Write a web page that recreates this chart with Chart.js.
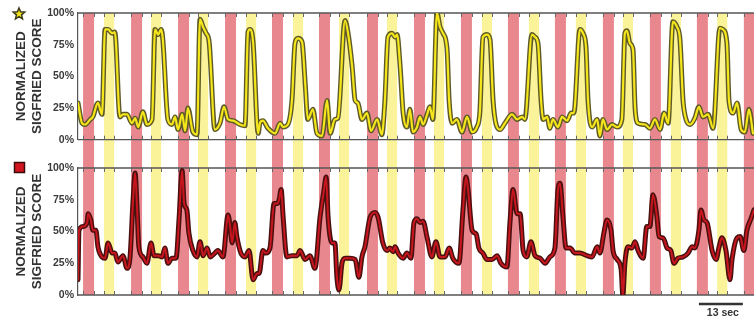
<!DOCTYPE html>
<html>
<head>
<meta charset="utf-8">
<script src="https://cdn.jsdelivr.net/npm/chart.js@4/dist/chart.umd.min.js"></script>
<style>
  html, body { margin: 0; padding: 0; background: #fff; }
  #wrap { position: relative; width: 754px; height: 322px; }
  #top { position: absolute; left: 0; top: 0; }
  #bottom { position: absolute; left: 0; top: 150px; }
</style>
</head>
<body>
<div id="wrap">
  <canvas id="top" width="754" height="150"></canvas>
  <canvas id="bottom" width="754" height="172"></canvas>
</div>
<script>
// temps en secondes
const topTimes = [
  0, 1.2, 2.1, 3.6, 4.4, 5.9, 7.1, 8.0, 8.9, 10.1,
  10.9, 12.4, 13.3, 14.5, 16.0, 16.9, 17.8, 19.2, 20.4, 21.9,
  22.8, 23.7, 24.6, 25.1, 26.6, 27.8, 28.7, 29.6, 30.8, 31.7,
  32.5, 34.0, 35.2, 36.1, 37.0, 37.9, 38.8, 40.5, 42.0, 43.2,
  44.4, 45.9, 47.9, 49.4, 50.3, 50.9, 51.8, 53.3, 53.8, 54.7,
  56.2, 58.3, 59.8, 60.7, 62.1, 63.3, 64.2, 65.1, 66.3, 67.2,
  68.0, 69.5, 70.7, 72.2, 73.7, 74.6, 76.0, 76.9, 79.0, 79.9,
  81.1, 82.0, 82.8, 84.0, 85.5, 86.7, 88.5, 89.9, 90.8, 91.7,
  92.9, 93.8, 94.4, 95.3, 96.2, 97.3, 98.2, 99.1, 100.3, 101.2,
  102.1, 103.3, 104.1, 105.0, 106.2, 107.1, 108.0, 109.2, 109.8, 110.7,
  112.1, 113.6, 115.1, 116.6, 118.0, 118.9, 119.8, 121.0, 121.9, 122.8,
  123.7, 124.9, 126.3, 128.4, 129.9, 131.4, 132.2, 134.3, 135.2, 136.1,
  137.0, 137.6, 138.8, 139.6, 140.5, 142.0, 143.2, 144.7, 145.9, 146.7,
  148.5, 149.4, 150.3, 150.9, 152.1, 153.6, 154.4, 155.3, 156.5, 158.0,
  159.5, 160.9, 161.8, 162.4, 163.3, 164.2, 164.8, 165.7, 167.8, 169.2,
  170.7, 172.2, 173.4, 174.6, 176.0, 177.2, 178.1, 179.0, 179.9, 181.1,
  182.5, 183.7, 184.9, 186.4, 187.9, 189.9, 190.8, 192.0, 192.6, 193.8,
  195.0, 196.2, 197.3, 198.5, 199.7
];
const topScores = [
  29, 13, 12, 16, 18, 29, 20, 87, 87, 84,
  85, 18, 20, 20, 13, 17, 10, 22, 12, 16,
  87, 83, 87, 79, 16, 12, 18, 8, 20, 7,
  25, 6, 4, 95, 89, 84, 77, 8, 13, 26,
  16, 15, 12, 11, 85, 87, 77, 5, 13, 15,
  9, 5, 13, 10, 12, 31, 76, 80, 77, 45,
  16, 24, 5, 3, 31, 5, 16, 17, 94, 84,
  58, 31, 29, 16, 21, 7, 16, 4, 31, 81,
  84, 81, 83, 58, 21, 10, 24, 6, 10, 18,
  12, 20, 26, 16, 100, 89, 84, 71, 31, 13,
  16, 6, 18, 6, 10, 22, 81, 83, 79, 31,
  12, 8, 13, 20, 16, 18, 16, 83, 81, 76,
  31, 16, 18, 9, 16, 10, 18, 15, 21, 21,
  87, 84, 73, 31, 10, 16, 3, 16, 8, 12,
  10, 16, 84, 86, 76, 71, 26, 13, 12, 9,
  16, 8, 21, 13, 93, 89, 79, 31, 16, 12,
  17, 26, 18, 20, 9, 88, 87, 76, 31, 21,
  29, 8, 6, 24, 5
];

const bottomTimes = [
  0.0, 0.3, 1.5, 2.7, 3.0, 3.8, 4.4, 5.3, 5.9, 7.1,
  8.0, 8.9, 10.1, 10.9, 11.8, 13.3, 14.5, 15.4, 16.3, 16.9,
  17.5, 18.0, 19.2, 20.4, 21.6, 22.5, 23.7, 24.9, 25.7, 26.6,
  27.8, 29.0, 29.9, 30.8, 31.4, 32.2, 32.8, 34.0, 35.2, 36.1,
  37.0, 38.2, 39.1, 40.5, 41.4, 42.9, 44.4, 45.0, 45.6, 46.4,
  47.0, 48.2, 49.4, 50.6, 51.8, 53.0, 53.6, 54.7, 55.6, 56.8,
  58.0, 58.9, 59.5, 60.1, 60.7, 61.8, 63.3, 64.8, 65.7, 67.2,
  68.6, 70.1, 71.6, 72.8, 73.4, 74.0, 75.1, 76.0, 76.6, 77.2,
  78.1, 79.0, 80.5, 82.0, 83.1, 84.0, 84.9, 86.4, 87.9, 88.8,
  90.2, 91.4, 92.3, 93.2, 93.8, 94.7, 96.2, 97.3, 98.5, 99.4,
  100.3, 101.2, 102.1, 103.3, 104.7, 105.9, 107.1, 108.6, 109.8, 110.9,
  112.7, 113.9, 114.8, 115.4, 116.6, 117.8, 118.6, 119.8, 121.0, 122.5,
  124.0, 125.1, 126.9, 127.8, 128.7, 129.9, 130.8, 131.7, 132.8, 134.0,
  135.2, 136.7, 138.2, 139.6, 141.1, 142.0, 142.6, 143.5, 144.4, 145.6,
  147.0, 148.5, 150.6, 152.1, 153.6, 154.4, 155.6, 156.5, 157.7, 158.3,
  159.5, 160.7, 161.2, 161.8, 162.7, 163.9, 164.8, 165.7, 167.2, 168.3,
  169.2, 170.1, 171.3, 171.9, 173.1, 174.3, 175.4, 176.3, 177.5, 179.0,
  180.5, 181.7, 182.5, 183.7, 184.3, 185.2, 186.1, 187.6, 188.8, 189.6,
  190.5, 191.7, 192.9, 193.5, 195.0, 195.9, 197.0, 197.9, 199.1, 200.0
];
const bottomScores = [
  12, 51, 54, 57, 64, 59, 51, 51, 38, 30,
  29, 41, 33, 33, 26, 31, 21, 30, 75, 96,
  67, 38, 30, 25, 41, 31, 31, 30, 37, 25,
  29, 29, 60, 98, 72, 67, 49, 35, 30, 42,
  31, 37, 30, 33, 35, 30, 63, 54, 41, 57,
  46, 33, 30, 35, 12, 17, 17, 35, 33, 37,
  72, 72, 75, 83, 61, 30, 31, 31, 35, 28,
  31, 21, 61, 83, 93, 61, 41, 41, 14, 4,
  25, 29, 29, 28, 14, 30, 38, 61, 65, 61,
  41, 35, 37, 34, 38, 33, 29, 33, 29, 57,
  60, 57, 58, 45, 30, 42, 30, 30, 37, 29,
  25, 67, 93, 83, 51, 48, 37, 33, 28, 28,
  31, 25, 22, 57, 83, 64, 64, 35, 30, 42,
  31, 29, 25, 30, 37, 83, 88, 61, 37, 37,
  33, 33, 31, 30, 38, 33, 49, 59, 51, 35,
  28, 20, 0, 25, 38, 37, 42, 35, 29, 54,
  54, 79, 61, 46, 45, 37, 35, 25, 29, 30,
  33, 38, 37, 51, 67, 59, 57, 35, 28, 37,
  45, 35, 12, 28, 45, 46, 35, 51, 60, 67
];

// périodes de stimulation (début, en secondes)
const redStarts = [1.5, 15.7, 29.6, 43.5, 57.4, 71.3, 85.5, 99.4, 113.3, 127.2, 141.1, 155.3, 169.2, 183.1, 197.0];
const redDuration = 3.25;
const yellowStarts = [7.7, 21.6, 35.5, 49.7, 63.6, 77.2, 91.4, 105.3, 119.5, 133.4, 147.3, 161.2, 175.4, 189.1];
const yellowDuration = 3.0;

const yTicks = [0, 25, 50, 75, 100];
const axisTitle = ['NORMALIZED', 'SIGFRIED SCORE'];
const scaleBarSeconds = 13;
const scaleBarEnd = 196.7;
const timeMax = 200;

const FONT = "'Liberation Sans', Arial, sans-serif";

// bandes + cadre
function bandesPlugin(bandTop, bandBottom) {
  return {
    id: 'bandes',
    beforeDatasetsDraw(chart) {
      const { ctx, chartArea, scales } = chart;
      const x = scales.x;
      const y0 = bandTop(chart), y1 = bandBottom(chart);
      ctx.save();
      const dessiner = (starts, dur, couleur) => {
        ctx.fillStyle = couleur;
        starts.forEach(s => {
          const a = x.getPixelForValue(s), b = x.getPixelForValue(s + dur);
          ctx.fillRect(a, y0, b - a, y1 - y0);
        });
      };
      dessiner(redStarts, redDuration, '#e9878f');
      dessiner(yellowStarts, yellowDuration, '#faf399');

      // cadre haut et bas
      ctx.strokeStyle = '#555';
      ctx.lineWidth = 1.3;
      ctx.beginPath();
      ctx.moveTo(chartArea.left, chartArea.top);
      ctx.lineTo(chartArea.right, chartArea.top);
      ctx.moveTo(chartArea.left, chartArea.bottom);
      ctx.lineTo(chartArea.right, chartArea.bottom);
      ctx.stroke();

      // petites graduations aux bords des bandes
      ctx.lineWidth = 1;
      ctx.strokeStyle = '#666';
      ctx.beginPath();
      const bords = [];
      redStarts.forEach(s => bords.push(s, s + redDuration));
      yellowStarts.forEach(s => bords.push(s, s + yellowDuration));
      bords.forEach(t => {
        const px = Math.round(x.getPixelForValue(t)) + 0.5;
        if (px > chartArea.right) return;
        ctx.moveTo(px, chartArea.bottom);
        ctx.lineTo(px, chartArea.bottom - 4);
        ctx.moveTo(px, chartArea.top);
        ctx.lineTo(px, chartArea.top + 4);
      });
      ctx.stroke();
      ctx.restore();
    }
  };
}

function titrePlugin(icone) {
  return {
    id: 'titre',
    afterDraw(chart) {
      const { ctx, chartArea } = chart;
      const cy = (chartArea.top + chartArea.bottom) / 2;
      ctx.save();
      ctx.fillStyle = '#333';
      ctx.font = 'bold 13.5px ' + FONT;
      ctx.textAlign = 'center';
      ctx.textBaseline = 'middle';
      [21, 37].forEach((cx, i) => {
        ctx.save();
        ctx.translate(cx, cy);
        ctx.rotate(-Math.PI / 2);
        ctx.fillText(axisTitle[i], 0, 0);
        ctx.restore();
      });
      icone(ctx, chart);
      ctx.restore();
    }
  };
}

function etoile(ctx) {
  const cx = 19, cy = 14, r1 = 6, r2 = 2.7;
  ctx.beginPath();
  for (let i = 0; i < 10; i++) {
    const r = i % 2 === 0 ? r1 : r2;
    const ang = -Math.PI / 2 + i * Math.PI / 5;
    const px = cx + r * Math.cos(ang), py = cy + r * Math.sin(ang);
    if (i === 0) ctx.moveTo(px, py); else ctx.lineTo(px, py);
  }
  ctx.closePath();
  ctx.fillStyle = '#f2e51c';
  ctx.fill();
  ctx.lineWidth = 1.5;
  ctx.strokeStyle = '#3d3a1a';
  ctx.stroke();
}

function carre(ctx) {
  ctx.fillStyle = '#d2141e';
  ctx.fillRect(14.5, 12.5, 10, 10);
  ctx.lineWidth = 1.5;
  ctx.strokeStyle = '#3a0c0c';
  ctx.strokeRect(14.5, 12.5, 10, 10);
}

const echellePlugin = {
  id: 'echelle',
  afterDraw(chart) {
    const { ctx, scales } = chart;
    const x1 = scales.x.getPixelForValue(scaleBarEnd - scaleBarSeconds);
    const x2 = scales.x.getPixelForValue(scaleBarEnd);
    ctx.save();
    ctx.strokeStyle = '#333';
    ctx.lineWidth = 2.5;
    ctx.beginPath();
    ctx.moveTo(x1, 154);
    ctx.lineTo(x2, 154);
    ctx.stroke();
    ctx.fillStyle = '#333';
    ctx.font = 'bold 10.5px ' + FONT;
    ctx.textAlign = 'center';
    ctx.textBaseline = 'middle';
    ctx.fillText(scaleBarSeconds + ' sec', (x1 + x2) / 2 + 2, 163);
    ctx.restore();
  }
};

function options(padTop, padBottom) {
  return {
    responsive: false,
    animation: false,
    layout: { padding: { top: padTop, bottom: padBottom, left: 0, right: 0 } },
    plugins: { legend: { display: false }, tooltip: { enabled: false } },
    scales: {
      x: { type: 'linear', min: 0, max: timeMax, display: false },
      y: {
        min: 0, max: 100,
        afterFit(scale) { scale.width = 78; },
        afterBuildTicks(scale) { scale.ticks = yTicks.map(v => ({ value: v })); },
        ticks: {
          padding: 4,
          color: '#3a3a3a',
          font: { family: FONT, size: 10.5, weight: 'bold' },
          callback: v => v + '%'
        },
        grid: { display: false, drawTicks: false },
        border: { display: true, color: '#555', width: 1.2 }
      }
    }
  };
}

// contour sombre dessous, trait coloré dessus
function series(times, scores, outline, inner, innerWidth) {
  const pts = times.map((t, i) => ({ x: t, y: scores[i] }));
  const base = { pointRadius: 0, cubicInterpolationMode: 'monotone', borderJoinStyle: 'round', borderCapStyle: 'round', fill: false };
  return [
    Object.assign({}, base, { data: pts, borderColor: inner, borderWidth: innerWidth, order: 0 }),
    Object.assign({}, base, { data: pts.map(p => ({ ...p })), borderColor: outline, borderWidth: 5, order: 1 })
  ];
}

new Chart(document.getElementById('top'), {
  type: 'line',
  data: { datasets: series(topTimes, topScores, '#5e5928', '#f4e61a', 2.2) },
  options: options(13, 10),
  plugins: [bandesPlugin(c => c.chartArea.top, c => c.height), titrePlugin(etoile)]
});

new Chart(document.getElementById('bottom'), {
  type: 'line',
  data: { datasets: series(bottomTimes, bottomScores, '#4a1010', '#c8161e', 2) },
  options: options(18, 27),
  plugins: [bandesPlugin(c => 0, c => c.chartArea.bottom), titrePlugin(carre), echellePlugin]
});
</script>
</body>
</html>
